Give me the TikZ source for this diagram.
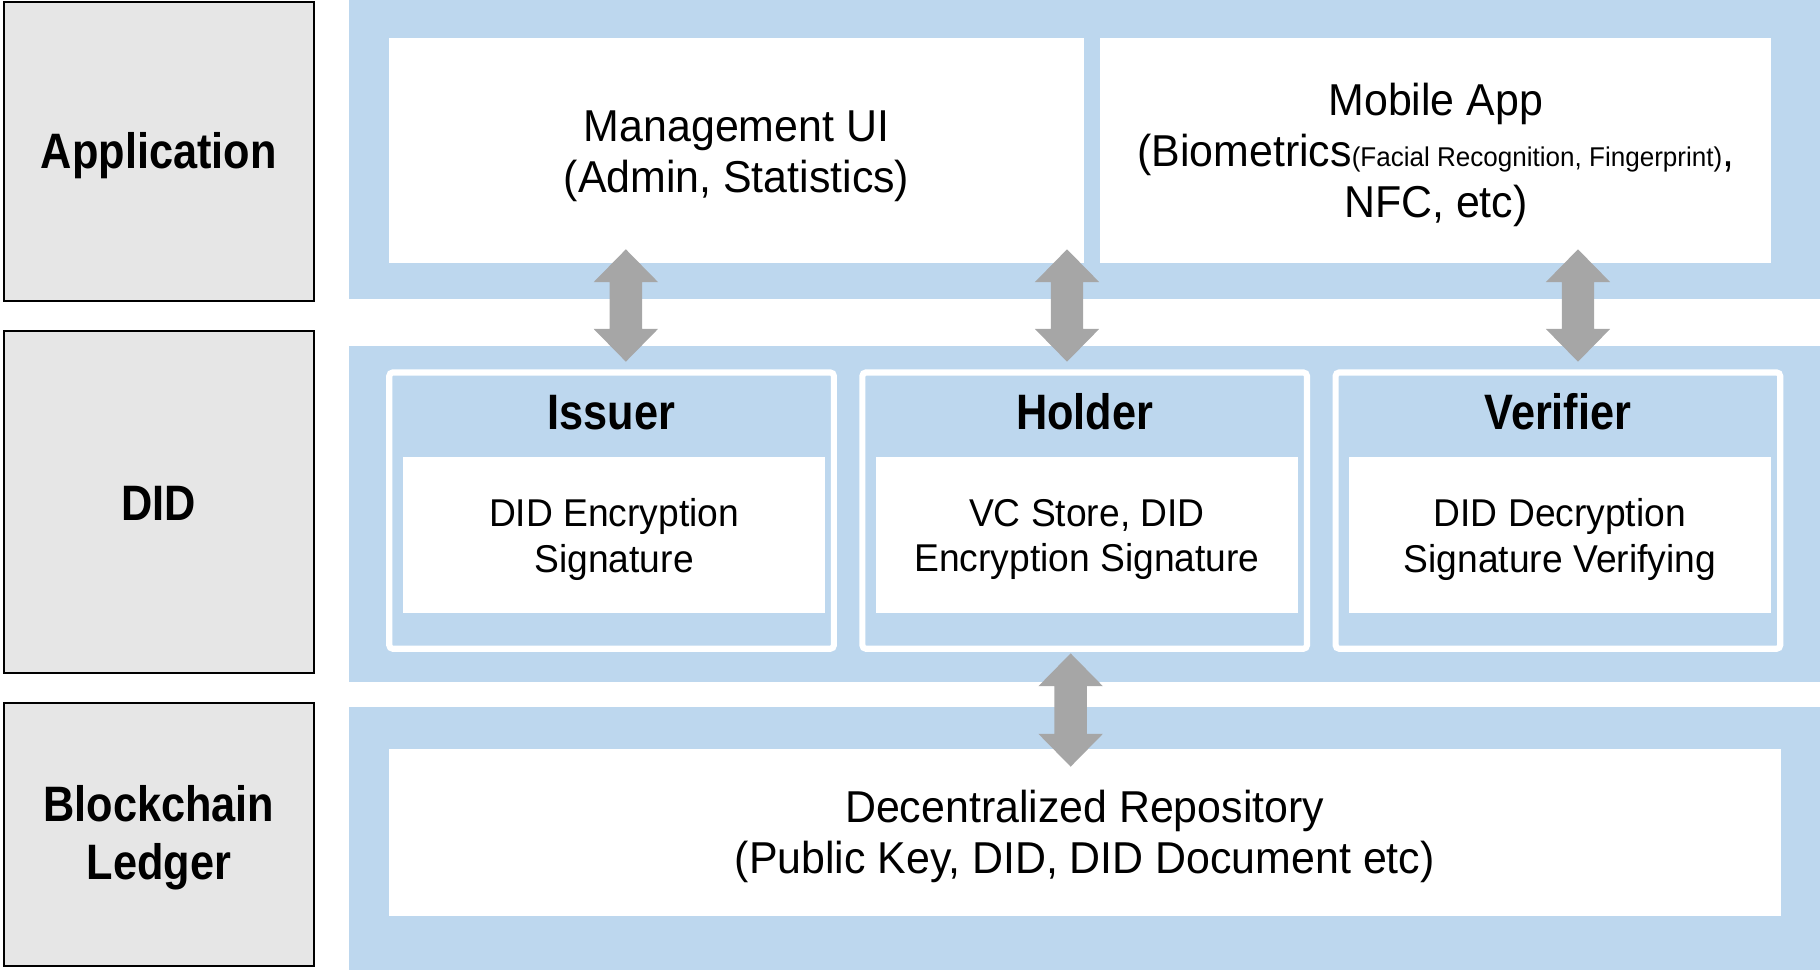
\documentclass[tikz,border=0pt]{standalone}
\usepackage{fontspec}
\setmainfont{Liberation Sans}[FakeStretch=0.96]
\newfontfamily\headfont{Liberation Sans}[FakeStretch=0.87]
\usepackage{tikz}
\usetikzlibrary{calc}

\definecolor{panelblue}{HTML}{BDD7EE}
\definecolor{layergray}{HTML}{E6E6E6}
\definecolor{arrowgray}{HTML}{A6A6A6}

\begin{document}
\begin{tikzpicture}[x=0.1mm, y=-0.1mm,
    layerbox/.style={draw=black, line width=0.5pt, fill=layergray, inner sep=0pt,
        minimum width=26.75mm},
    layertext/.style={align=center, font=\headfont\bfseries\fontsize{12.2}{14.2}\selectfont},
    appbox/.style={fill=white, inner sep=0pt, minimum height=19.33mm},
    apptext/.style={align=center, font=\fontsize{10.95}{12.5}\selectfont},
    rolebox/.style={draw=white, line width=1.5pt, fill=panelblue, rounded corners=0.3mm,
        inner sep=0pt, minimum width=38.3mm, minimum height=23.8mm},
    roletitle/.style={anchor=base, font=\headfont\bfseries\fontsize{12.2}{14.2}\selectfont},
    taskbox/.style={fill=white, inner sep=0pt, minimum width=36.38mm, minimum height=13.45mm},
    tasktext/.style={align=center, font=\fontsize{9.5}{11.1}\selectfont},
    twoway/.style={fill=arrowgray}]
        \useasboundingbox (0,0) rectangle (1568,836);
        % layer panels
        \fill[panelblue] (301,0) rectangle (1568,257.6);
        \fill[panelblue] (301,298) rectangle (1568,587.5);
        \fill[panelblue] (301,609) rectangle (1568,836);
        % layer names
        \node[layerbox, minimum height=25.7mm] (app) at (136.8,130.5) {};
        \node[layerbox, minimum height=29.43mm] (did) at (136.8,432.4) {};
        \node[layerbox, minimum height=22.66mm] (ledger) at (136.8,718.7) {};
        \node[layertext] (appname) at ([yshift=-0.4mm]app) {Application};
        \node[layertext] (didname) at ([yshift=-0.1mm]did) {DID};
        \node[layertext] (ledgername) at ([yshift=-0.3mm]ledger) {Blockchain\\Ledger};
        % application layer
        \node[appbox, minimum width=59.9mm] (mgmt) at (634.5,129.7) {};
        \node[appbox, minimum width=57.8mm] (mobile) at (1237,129.7) {};
        \node[apptext] (mgmttext) at ([yshift=-0.45mm]mgmt) {Management UI\\(Admin, Statistics)};
        \node[apptext] (mobiletext) at ([yshift=-0.35mm]mobile)
            {Mobile App\\(Biometrics{\fontsize{6.65}{7}\selectfont(Facial Recognition, Fingerprint)},\\NFC, etc)};
        % DID layer
        \node[rolebox] (issuer) at (526.9,439.9) {};
        \node[rolebox] (holder) at (934.5,439.9) {};
        \node[rolebox] (verifier) at (1342.2,439.9) {};
        \node[roletitle] (issuername) at ([yshift=-5.2mm]issuer.north) {Issuer};
        \node[roletitle] (holdername) at ([yshift=-5.2mm]holder.north) {Holder};
        \node[roletitle] (verifiername) at ([yshift=-5.2mm]verifier.north) {Verifier};
        \node[taskbox] (issuertask) at (529.1,460.7) {};
        \node[taskbox] (holdertask) at (936.5,460.7) {};
        \node[taskbox] (verifiertask) at (1343.9,460.7) {};
        \node[tasktext] at ([yshift=-0.4mm]issuertask) {DID Encryption\\Signature};
        \node[tasktext] at ([yshift=-0.4mm]holdertask) {VC Store, DID\\Encryption Signature};
        \node[tasktext] at ([yshift=-0.4mm]verifiertask) {DID Decryption\\Signature Verifying};
        % ledger layer
        \node[appbox, minimum width=119.9mm, minimum height=14.4mm] (repo) at (934.5,717) {};
        \node[apptext] (repotext) at ([yshift=-0.4mm]repo)
            {Decentralized Repository\\(Public Key, DID, DID Document etc)};
        % arrows between layers
        \coordinate (a1t) at (539.2,214.8);  \coordinate (a1b) at (539.2,311.6);
        \coordinate (a2t) at (919.3,214.8);  \coordinate (a2b) at (919.3,311.6);
        \coordinate (a3t) at (1359.5,214.8); \coordinate (a3b) at (1359.5,311.6);
        \coordinate (a4t) at (922.4,562.9);  \coordinate (a4b) at (922.4,660.5);
        \foreach \t/\b in {a1t/a1b, a2t/a2b, a3t/a3b, a4t/a4b}
            \fill[twoway] (\t) -- ([shift={(27.7,28.2)}]\t) -- ([shift={(13.95,28.2)}]\t)
                -- ([shift={(13.95,-28.2)}]\b) -- ([shift={(27.7,-28.2)}]\b) -- (\b)
                -- ([shift={(-27.7,-28.2)}]\b) -- ([shift={(-13.95,-28.2)}]\b)
                -- ([shift={(-13.95,28.2)}]\t) -- ([shift={(-27.7,28.2)}]\t) -- cycle;
\end{tikzpicture}
\end{document}
